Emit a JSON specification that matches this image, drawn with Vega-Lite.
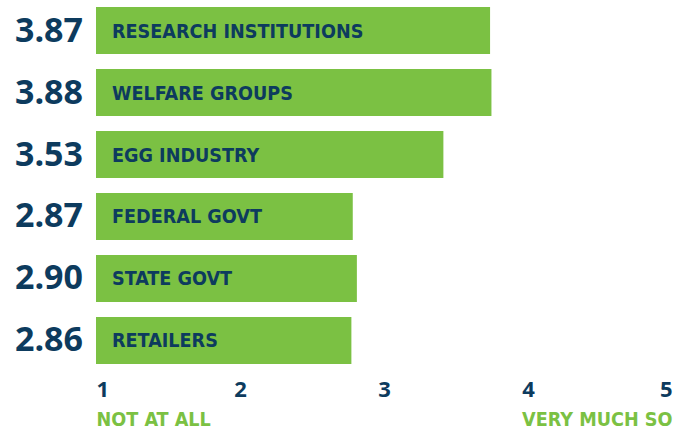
{
  "$schema": "https://vega.github.io/schema/vega-lite/v6.json",
  "width": 576,
  "height": 371,
  "autosize": "none",
  "padding": {"left": 96, "top": 0, "right": 3, "bottom": 59},
  "background": "white",
  "config": {"view": {"stroke": null}},
  "datasets": {
    "ratings": [
      {"group": "RESEARCH INSTITUTIONS", "score": 3.87, "scoreText": "3.87"},
      {"group": "WELFARE GROUPS", "score": 3.88, "scoreText": "3.88"},
      {"group": "EGG INDUSTRY", "score": 3.53, "scoreText": "3.53"},
      {"group": "FEDERAL GOVT", "score": 2.87, "scoreText": "2.87"},
      {"group": "STATE GOVT", "score": 2.90, "scoreText": "2.90"},
      {"group": "RETAILERS", "score": 2.86, "scoreText": "2.86"}
    ],
    "scaleEnds": [
      {"value": 1, "end": "NOT AT ALL"},
      {"value": 5, "end": "VERY MUCH SO"}
    ]
  },
  "layer": [
    {
      "data": {"name": "ratings"},
      "encoding": {
        "y": {
          "field": "group",
          "type": "nominal",
          "sort": null,
          "axis": null,
          "scale": {"paddingInner": 0.242, "paddingOuter": 0.113}
        }
      },
      "layer": [
        {
          "mark": {"type": "bar", "color": "#7BC143"},
          "encoding": {
            "x": {"field": "score", "type": "quantitative", "scale": {"domain": [1, 5.195], "zero": false, "nice": false}, "axis": null},
            "x2": {"datum": 1}
          }
        },
        {
          "mark": {"type": "text", "align": "left", "baseline": "middle", "dx": 16, "dy": 1, "font": "Liberation Sans Narrow, DejaVu Sans Condensed, Open Sans", "fontWeight": "bold", "fontSize": 19.6, "color": "#0D3B5E"},
          "encoding": {
            "x": {"datum": 1},
            "text": {"field": "group"}
          }
        },
        {
          "mark": {"type": "text", "align": "right", "baseline": "middle", "dx": -13, "dy": 1, "font": "Open Sans", "fontWeight": "bold", "fontSize": 34, "color": "#0D3B5E"},
          "encoding": {
            "x": {"datum": 1},
            "text": {"field": "scoreText"}
          }
        }
      ]
    },
    {
      "data": {"name": "scaleEnds"},
      "mark": {"type": "rule", "opacity": 0},
      "encoding": {
        "x": {
          "field": "value",
          "type": "quantitative",
          "scale": {"domain": [1, 5], "nice": false, "zero": false},
          "axis": {
            "orient": "bottom",
            "values": [1, 2, 3, 4, 5],
            "format": "d",
            "domain": false,
            "ticks": false,
            "grid": false,
            "title": null,
            "labelFlush": true,
            "labelFont": "Open Sans",
            "labelFontWeight": "bold",
            "labelFontSize": 22,
            "labelColor": "#0D3B5E",
            "labelPadding": 8,
            "labelBaseline": "top"
          }
        }
      }
    },
    {
      "data": {"name": "scaleEnds"},
      "mark": {"type": "rule", "opacity": 0},
      "encoding": {
        "x": {
          "field": "value",
          "type": "quantitative",
          "scale": {"domain": [1, 5], "nice": false, "zero": false},
          "axis": {
            "orient": "bottom",
            "values": [1, 5],
            "labelExpr": "datum.value == 1 ? 'NOT AT ALL' : 'VERY MUCH SO'",
            "domain": false,
            "ticks": false,
            "grid": false,
            "title": null,
            "labelFlush": true,
            "labelFont": "Liberation Sans Narrow, DejaVu Sans Condensed, Open Sans",
            "labelFontWeight": "bold",
            "labelFontSize": 19.6,
            "labelColor": "#7BC143",
            "labelPadding": 39,
            "labelBaseline": "top"
          }
        }
      }
    }
  ],
  "resolve": {"scale": {"x": "independent"}, "axis": {"x": "independent"}}
}
